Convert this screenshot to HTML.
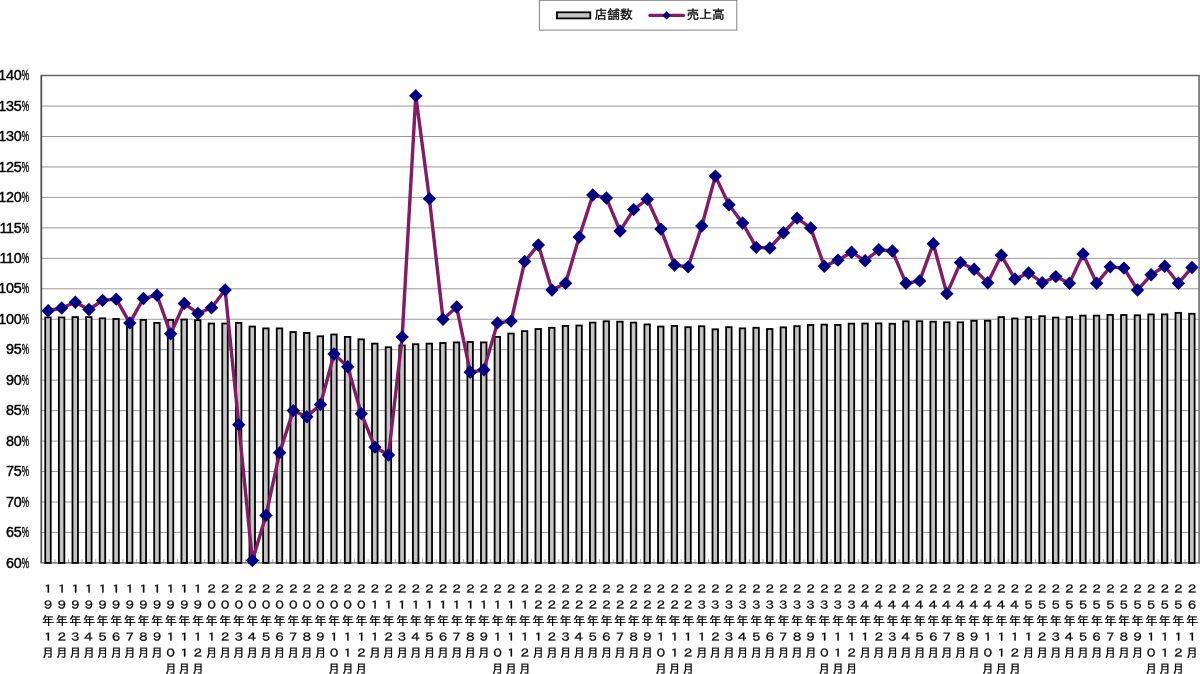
<!DOCTYPE html>
<html lang="ja">
<head>
<meta charset="utf-8">
<title>店舗数・売上高 前年同月比</title>
<style>
html,body{margin:0;padding:0;background:#fff;}
body{width:1200px;height:674px;overflow:hidden;position:relative;font-family:"Liberation Sans","Noto Sans CJK JP",sans-serif;}
svg{position:absolute;left:0;top:0;display:block;}
.yl{font-family:"Liberation Sans",sans-serif;font-size:14.4px;fill:#000;stroke:#000;stroke-width:0.4px;}
.xl{font-family:"Liberation Sans", "IPAGothic", "Noto Sans CJK JP", sans-serif;font-size:12px;fill:#000;stroke:#000;stroke-width:0.3px;text-anchor:middle;}
.lg{font-family:"Liberation Sans", "IPAGothic", "Noto Sans CJK JP", sans-serif;font-size:12.8px;fill:#000;stroke:#000;stroke-width:0.3px;}
</style>
</head>
<body>
<svg width="1200" height="674" viewBox="0 0 1200 674">
<rect x="0" y="0" width="1200" height="674" fill="#fff"/>
<g stroke="#9a9a9a" stroke-width="1.0" fill="none">
<line x1="41.3" y1="106.06" x2="1198.8" y2="106.06"/>
<line x1="41.3" y1="136.51" x2="1198.8" y2="136.51"/>
<line x1="41.3" y1="166.97" x2="1198.8" y2="166.97"/>
<line x1="41.3" y1="197.42" x2="1198.8" y2="197.42"/>
<line x1="41.3" y1="227.88" x2="1198.8" y2="227.88"/>
<line x1="41.3" y1="258.34" x2="1198.8" y2="258.34"/>
<line x1="41.3" y1="288.79" x2="1198.8" y2="288.79"/>
<line x1="41.3" y1="319.25" x2="1198.8" y2="319.25"/>
<line x1="41.3" y1="349.71" x2="1198.8" y2="349.71"/>
<line x1="41.3" y1="380.16" x2="1198.8" y2="380.16"/>
<line x1="41.3" y1="410.62" x2="1198.8" y2="410.62"/>
<line x1="41.3" y1="441.07" x2="1198.8" y2="441.07"/>
<line x1="41.3" y1="471.53" x2="1198.8" y2="471.53"/>
<line x1="41.3" y1="501.99" x2="1198.8" y2="501.99"/>
<line x1="41.3" y1="532.44" x2="1198.8" y2="532.44"/>
</g>
<g stroke="#a8a8a8" stroke-width="1" fill="none">
<line x1="54.92" y1="559.3" x2="54.92" y2="562.9"/>
<line x1="68.54" y1="559.3" x2="68.54" y2="562.9"/>
<line x1="82.15" y1="559.3" x2="82.15" y2="562.9"/>
<line x1="95.77" y1="559.3" x2="95.77" y2="562.9"/>
<line x1="109.39" y1="559.3" x2="109.39" y2="562.9"/>
<line x1="123.01" y1="559.3" x2="123.01" y2="562.9"/>
<line x1="136.62" y1="559.3" x2="136.62" y2="562.9"/>
<line x1="150.24" y1="559.3" x2="150.24" y2="562.9"/>
<line x1="163.86" y1="559.3" x2="163.86" y2="562.9"/>
<line x1="177.48" y1="559.3" x2="177.48" y2="562.9"/>
<line x1="191.09" y1="559.3" x2="191.09" y2="562.9"/>
<line x1="204.71" y1="559.3" x2="204.71" y2="562.9"/>
<line x1="218.33" y1="559.3" x2="218.33" y2="562.9"/>
<line x1="231.95" y1="559.3" x2="231.95" y2="562.9"/>
<line x1="245.56" y1="559.3" x2="245.56" y2="562.9"/>
<line x1="259.18" y1="559.3" x2="259.18" y2="562.9"/>
<line x1="272.8" y1="559.3" x2="272.8" y2="562.9"/>
<line x1="286.42" y1="559.3" x2="286.42" y2="562.9"/>
<line x1="300.04" y1="559.3" x2="300.04" y2="562.9"/>
<line x1="313.65" y1="559.3" x2="313.65" y2="562.9"/>
<line x1="327.27" y1="559.3" x2="327.27" y2="562.9"/>
<line x1="340.89" y1="559.3" x2="340.89" y2="562.9"/>
<line x1="354.51" y1="559.3" x2="354.51" y2="562.9"/>
<line x1="368.12" y1="559.3" x2="368.12" y2="562.9"/>
<line x1="381.74" y1="559.3" x2="381.74" y2="562.9"/>
<line x1="395.36" y1="559.3" x2="395.36" y2="562.9"/>
<line x1="408.98" y1="559.3" x2="408.98" y2="562.9"/>
<line x1="422.59" y1="559.3" x2="422.59" y2="562.9"/>
<line x1="436.21" y1="559.3" x2="436.21" y2="562.9"/>
<line x1="449.83" y1="559.3" x2="449.83" y2="562.9"/>
<line x1="463.45" y1="559.3" x2="463.45" y2="562.9"/>
<line x1="477.06" y1="559.3" x2="477.06" y2="562.9"/>
<line x1="490.68" y1="559.3" x2="490.68" y2="562.9"/>
<line x1="504.3" y1="559.3" x2="504.3" y2="562.9"/>
<line x1="517.92" y1="559.3" x2="517.92" y2="562.9"/>
<line x1="531.54" y1="559.3" x2="531.54" y2="562.9"/>
<line x1="545.15" y1="559.3" x2="545.15" y2="562.9"/>
<line x1="558.77" y1="559.3" x2="558.77" y2="562.9"/>
<line x1="572.39" y1="559.3" x2="572.39" y2="562.9"/>
<line x1="586.01" y1="559.3" x2="586.01" y2="562.9"/>
<line x1="599.62" y1="559.3" x2="599.62" y2="562.9"/>
<line x1="613.24" y1="559.3" x2="613.24" y2="562.9"/>
<line x1="626.86" y1="559.3" x2="626.86" y2="562.9"/>
<line x1="640.48" y1="559.3" x2="640.48" y2="562.9"/>
<line x1="654.09" y1="559.3" x2="654.09" y2="562.9"/>
<line x1="667.71" y1="559.3" x2="667.71" y2="562.9"/>
<line x1="681.33" y1="559.3" x2="681.33" y2="562.9"/>
<line x1="694.95" y1="559.3" x2="694.95" y2="562.9"/>
<line x1="708.56" y1="559.3" x2="708.56" y2="562.9"/>
<line x1="722.18" y1="559.3" x2="722.18" y2="562.9"/>
<line x1="735.8" y1="559.3" x2="735.8" y2="562.9"/>
<line x1="749.42" y1="559.3" x2="749.42" y2="562.9"/>
<line x1="763.04" y1="559.3" x2="763.04" y2="562.9"/>
<line x1="776.65" y1="559.3" x2="776.65" y2="562.9"/>
<line x1="790.27" y1="559.3" x2="790.27" y2="562.9"/>
<line x1="803.89" y1="559.3" x2="803.89" y2="562.9"/>
<line x1="817.51" y1="559.3" x2="817.51" y2="562.9"/>
<line x1="831.12" y1="559.3" x2="831.12" y2="562.9"/>
<line x1="844.74" y1="559.3" x2="844.74" y2="562.9"/>
<line x1="858.36" y1="559.3" x2="858.36" y2="562.9"/>
<line x1="871.98" y1="559.3" x2="871.98" y2="562.9"/>
<line x1="885.59" y1="559.3" x2="885.59" y2="562.9"/>
<line x1="899.21" y1="559.3" x2="899.21" y2="562.9"/>
<line x1="912.83" y1="559.3" x2="912.83" y2="562.9"/>
<line x1="926.45" y1="559.3" x2="926.45" y2="562.9"/>
<line x1="940.06" y1="559.3" x2="940.06" y2="562.9"/>
<line x1="953.68" y1="559.3" x2="953.68" y2="562.9"/>
<line x1="967.3" y1="559.3" x2="967.3" y2="562.9"/>
<line x1="980.92" y1="559.3" x2="980.92" y2="562.9"/>
<line x1="994.54" y1="559.3" x2="994.54" y2="562.9"/>
<line x1="1008.15" y1="559.3" x2="1008.15" y2="562.9"/>
<line x1="1021.77" y1="559.3" x2="1021.77" y2="562.9"/>
<line x1="1035.39" y1="559.3" x2="1035.39" y2="562.9"/>
<line x1="1049.01" y1="559.3" x2="1049.01" y2="562.9"/>
<line x1="1062.62" y1="559.3" x2="1062.62" y2="562.9"/>
<line x1="1076.24" y1="559.3" x2="1076.24" y2="562.9"/>
<line x1="1089.86" y1="559.3" x2="1089.86" y2="562.9"/>
<line x1="1103.48" y1="559.3" x2="1103.48" y2="562.9"/>
<line x1="1117.09" y1="559.3" x2="1117.09" y2="562.9"/>
<line x1="1130.71" y1="559.3" x2="1130.71" y2="562.9"/>
<line x1="1144.33" y1="559.3" x2="1144.33" y2="562.9"/>
<line x1="1157.95" y1="559.3" x2="1157.95" y2="562.9"/>
<line x1="1171.56" y1="559.3" x2="1171.56" y2="562.9"/>
<line x1="1185.18" y1="559.3" x2="1185.18" y2="562.9"/>
</g>
<line x1="1199.1" y1="75.6" x2="1199.1" y2="562.9" stroke="#808080" stroke-width="1.9"/>
<line x1="40.6" y1="75.6" x2="1200" y2="75.6" stroke="#666" stroke-width="1.5"/>
<line x1="41.3" y1="75.6" x2="41.3" y2="562.9" stroke="#4c4c4c" stroke-width="1.7"/>
<line x1="40.6" y1="562.9" x2="1200" y2="562.9" stroke="#606060" stroke-width="1.4"/>
<g fill="#c4c4c4" stroke="#000" stroke-width="1.8">
<rect x="45.24" y="317.42" width="5.5" height="245.48"/>
<rect x="58.86" y="317.42" width="5.5" height="245.48"/>
<rect x="72.47" y="317.12" width="5.5" height="245.78"/>
<rect x="86.09" y="317.12" width="5.5" height="245.78"/>
<rect x="99.71" y="318.34" width="5.5" height="244.56"/>
<rect x="113.33" y="318.95" width="5.5" height="243.95"/>
<rect x="126.94" y="319.25" width="5.5" height="243.65"/>
<rect x="140.56" y="319.86" width="5.5" height="243.04"/>
<rect x="154.18" y="322.9" width="5.5" height="240"/>
<rect x="167.8" y="319.86" width="5.5" height="243.04"/>
<rect x="181.42" y="319.55" width="5.5" height="243.35"/>
<rect x="195.03" y="320.16" width="5.5" height="242.74"/>
<rect x="208.65" y="323.51" width="5.5" height="239.39"/>
<rect x="222.27" y="323.51" width="5.5" height="239.39"/>
<rect x="235.89" y="322.9" width="5.5" height="240"/>
<rect x="249.5" y="326.56" width="5.5" height="236.34"/>
<rect x="263.12" y="328.39" width="5.5" height="234.51"/>
<rect x="276.74" y="328.39" width="5.5" height="234.51"/>
<rect x="290.36" y="332.04" width="5.5" height="230.86"/>
<rect x="303.97" y="332.96" width="5.5" height="229.94"/>
<rect x="317.59" y="336.31" width="5.5" height="226.59"/>
<rect x="331.21" y="334.48" width="5.5" height="228.42"/>
<rect x="344.83" y="336.91" width="5.5" height="225.99"/>
<rect x="358.44" y="339.35" width="5.5" height="223.55"/>
<rect x="372.06" y="343.62" width="5.5" height="219.28"/>
<rect x="385.68" y="347.27" width="5.5" height="215.63"/>
<rect x="399.3" y="345.44" width="5.5" height="217.46"/>
<rect x="412.92" y="344.22" width="5.5" height="218.68"/>
<rect x="426.53" y="343.62" width="5.5" height="219.28"/>
<rect x="440.15" y="343.01" width="5.5" height="219.89"/>
<rect x="453.77" y="342.4" width="5.5" height="220.5"/>
<rect x="467.39" y="341.97" width="5.5" height="220.93"/>
<rect x="481" y="342.4" width="5.5" height="220.5"/>
<rect x="494.62" y="336.91" width="5.5" height="225.99"/>
<rect x="508.24" y="333.56" width="5.5" height="229.34"/>
<rect x="521.86" y="331.13" width="5.5" height="231.77"/>
<rect x="535.47" y="329" width="5.5" height="233.9"/>
<rect x="549.09" y="327.78" width="5.5" height="235.12"/>
<rect x="562.71" y="325.95" width="5.5" height="236.95"/>
<rect x="576.33" y="325.52" width="5.5" height="237.38"/>
<rect x="589.94" y="322.6" width="5.5" height="240.3"/>
<rect x="603.56" y="321.26" width="5.5" height="241.64"/>
<rect x="617.18" y="321.69" width="5.5" height="241.21"/>
<rect x="630.8" y="322.6" width="5.5" height="240.3"/>
<rect x="644.42" y="324.43" width="5.5" height="238.47"/>
<rect x="658.03" y="326.56" width="5.5" height="236.34"/>
<rect x="671.65" y="325.95" width="5.5" height="236.95"/>
<rect x="685.27" y="327.17" width="5.5" height="235.73"/>
<rect x="698.89" y="326.25" width="5.5" height="236.65"/>
<rect x="712.5" y="329.3" width="5.5" height="233.6"/>
<rect x="726.12" y="327.17" width="5.5" height="235.73"/>
<rect x="739.74" y="328.39" width="5.5" height="234.51"/>
<rect x="753.36" y="327.78" width="5.5" height="235.12"/>
<rect x="766.97" y="329" width="5.5" height="233.9"/>
<rect x="780.59" y="327.35" width="5.5" height="235.55"/>
<rect x="794.21" y="326.19" width="5.5" height="236.71"/>
<rect x="807.83" y="324.98" width="5.5" height="237.92"/>
<rect x="821.44" y="324.61" width="5.5" height="238.29"/>
<rect x="835.06" y="324.98" width="5.5" height="237.92"/>
<rect x="848.68" y="323.64" width="5.5" height="239.26"/>
<rect x="862.3" y="323.51" width="5.5" height="239.39"/>
<rect x="875.92" y="323.39" width="5.5" height="239.51"/>
<rect x="889.53" y="323.76" width="5.5" height="239.14"/>
<rect x="903.15" y="321.26" width="5.5" height="241.64"/>
<rect x="916.77" y="321.26" width="5.5" height="241.64"/>
<rect x="930.39" y="321.69" width="5.5" height="241.21"/>
<rect x="944" y="322.3" width="5.5" height="240.6"/>
<rect x="957.62" y="322.3" width="5.5" height="240.6"/>
<rect x="971.24" y="320.77" width="5.5" height="242.13"/>
<rect x="984.86" y="320.71" width="5.5" height="242.19"/>
<rect x="998.47" y="317.12" width="5.5" height="245.78"/>
<rect x="1012.09" y="318.46" width="5.5" height="244.44"/>
<rect x="1025.71" y="317.12" width="5.5" height="245.78"/>
<rect x="1039.33" y="316.2" width="5.5" height="246.7"/>
<rect x="1052.94" y="317.54" width="5.5" height="245.36"/>
<rect x="1066.56" y="317.12" width="5.5" height="245.78"/>
<rect x="1080.18" y="315.6" width="5.5" height="247.3"/>
<rect x="1093.8" y="315.6" width="5.5" height="247.3"/>
<rect x="1107.42" y="314.86" width="5.5" height="248.04"/>
<rect x="1121.03" y="314.99" width="5.5" height="247.91"/>
<rect x="1134.65" y="315.29" width="5.5" height="247.61"/>
<rect x="1148.27" y="314.38" width="5.5" height="248.52"/>
<rect x="1161.89" y="314.38" width="5.5" height="248.52"/>
<rect x="1175.5" y="312.85" width="5.5" height="250.05"/>
<rect x="1189.12" y="313.77" width="5.5" height="249.13"/>
</g>
<polyline points="48.11,310.72 61.73,307.98 75.34,302.19 88.96,309.5 102.58,300.37 116.2,299.15 129.81,322.9 143.43,298.54 157.05,295.19 170.67,333.87 184.29,303.41 197.9,313.46 211.52,307.68 225.14,290.01 238.76,424.63 252.37,560.46 265.99,515.39 279.61,452.65 293.23,410.62 306.84,416.71 320.46,404.53 334.08,353.97 347.7,366.76 361.31,413.66 374.93,447.17 388.55,455.08 402.17,336.91 415.79,95.7 429.4,198.64 443.02,319.25 456.64,307.07 470.26,372.24 483.87,369.81 497.49,322.9 511.11,321.08 524.73,261.38 538.34,244.94 551.96,290.01 565.58,283.31 579.2,237.02 592.81,194.99 606.43,198.03 620.05,230.93 633.67,209.61 647.29,199.25 660.9,229.1 674.52,265.04 688.14,266.87 701.76,226.05 715.37,176.11 728.99,204.73 742.61,223.01 756.23,247.37 769.84,247.98 783.46,232.75 797.08,218.14 810.7,227.88 824.31,266.26 837.93,260.16 851.55,252.25 865.17,260.77 878.79,249.81 892.4,251.03 906.02,283.31 919.64,280.88 933.26,243.72 946.87,293.67 960.49,262.6 974.11,269.3 987.73,282.7 1001.34,255.29 1014.96,279.05 1028.58,272.96 1042.2,282.7 1055.81,276.61 1069.43,283.31 1083.05,254.07 1096.67,283.31 1110.29,266.87 1123.9,268.08 1137.52,290.01 1151.14,274.78 1164.76,266.26 1178.37,283.31 1191.99,267.47" fill="none" stroke="#851a66" stroke-width="3.4" stroke-linejoin="round" stroke-linecap="round"/>
<g fill="#000080">
<path d="M48.11 304.02L54.81 310.72L48.11 317.42L41.41 310.72Z"/>
<path d="M61.73 301.28L68.43 307.98L61.73 314.68L55.03 307.98Z"/>
<path d="M75.34 295.49L82.04 302.19L75.34 308.89L68.64 302.19Z"/>
<path d="M88.96 302.8L95.66 309.5L88.96 316.2L82.26 309.5Z"/>
<path d="M102.58 293.67L109.28 300.37L102.58 307.07L95.88 300.37Z"/>
<path d="M116.2 292.45L122.9 299.15L116.2 305.85L109.5 299.15Z"/>
<path d="M129.81 316.2L136.51 322.9L129.81 329.6L123.11 322.9Z"/>
<path d="M143.43 291.84L150.13 298.54L143.43 305.24L136.73 298.54Z"/>
<path d="M157.05 288.49L163.75 295.19L157.05 301.89L150.35 295.19Z"/>
<path d="M170.67 327.17L177.37 333.87L170.67 340.57L163.97 333.87Z"/>
<path d="M184.29 296.71L190.99 303.41L184.29 310.11L177.59 303.41Z"/>
<path d="M197.9 306.76L204.6 313.46L197.9 320.16L191.2 313.46Z"/>
<path d="M211.52 300.98L218.22 307.68L211.52 314.38L204.82 307.68Z"/>
<path d="M225.14 283.31L231.84 290.01L225.14 296.71L218.44 290.01Z"/>
<path d="M238.76 417.93L245.46 424.63L238.76 431.33L232.06 424.63Z"/>
<path d="M252.37 553.76L259.07 560.46L252.37 567.16L245.67 560.46Z"/>
<path d="M265.99 508.69L272.69 515.39L265.99 522.09L259.29 515.39Z"/>
<path d="M279.61 445.95L286.31 452.65L279.61 459.35L272.91 452.65Z"/>
<path d="M293.23 403.92L299.93 410.62L293.23 417.32L286.53 410.62Z"/>
<path d="M306.84 410.01L313.54 416.71L306.84 423.41L300.14 416.71Z"/>
<path d="M320.46 397.83L327.16 404.53L320.46 411.23L313.76 404.53Z"/>
<path d="M334.08 347.27L340.78 353.97L334.08 360.67L327.38 353.97Z"/>
<path d="M347.7 360.06L354.4 366.76L347.7 373.46L341 366.76Z"/>
<path d="M361.31 406.96L368.01 413.66L361.31 420.36L354.61 413.66Z"/>
<path d="M374.93 440.47L381.63 447.17L374.93 453.87L368.23 447.17Z"/>
<path d="M388.55 448.38L395.25 455.08L388.55 461.78L381.85 455.08Z"/>
<path d="M402.17 330.21L408.87 336.91L402.17 343.61L395.47 336.91Z"/>
<path d="M415.79 89L422.49 95.7L415.79 102.4L409.09 95.7Z"/>
<path d="M429.4 191.94L436.1 198.64L429.4 205.34L422.7 198.64Z"/>
<path d="M443.02 312.55L449.72 319.25L443.02 325.95L436.32 319.25Z"/>
<path d="M456.64 300.37L463.34 307.07L456.64 313.77L449.94 307.07Z"/>
<path d="M470.26 365.54L476.96 372.24L470.26 378.94L463.56 372.24Z"/>
<path d="M483.87 363.11L490.57 369.81L483.87 376.51L477.17 369.81Z"/>
<path d="M497.49 316.2L504.19 322.9L497.49 329.6L490.79 322.9Z"/>
<path d="M511.11 314.38L517.81 321.08L511.11 327.78L504.41 321.08Z"/>
<path d="M524.73 254.68L531.43 261.38L524.73 268.08L518.03 261.38Z"/>
<path d="M538.34 238.24L545.04 244.94L538.34 251.64L531.64 244.94Z"/>
<path d="M551.96 283.31L558.66 290.01L551.96 296.71L545.26 290.01Z"/>
<path d="M565.58 276.61L572.28 283.31L565.58 290.01L558.88 283.31Z"/>
<path d="M579.2 230.32L585.9 237.02L579.2 243.72L572.5 237.02Z"/>
<path d="M592.81 188.29L599.51 194.99L592.81 201.69L586.11 194.99Z"/>
<path d="M606.43 191.33L613.13 198.03L606.43 204.73L599.73 198.03Z"/>
<path d="M620.05 224.23L626.75 230.93L620.05 237.63L613.35 230.93Z"/>
<path d="M633.67 202.91L640.37 209.61L633.67 216.31L626.97 209.61Z"/>
<path d="M647.29 192.55L653.99 199.25L647.29 205.95L640.59 199.25Z"/>
<path d="M660.9 222.4L667.6 229.1L660.9 235.8L654.2 229.1Z"/>
<path d="M674.52 258.34L681.22 265.04L674.52 271.74L667.82 265.04Z"/>
<path d="M688.14 260.17L694.84 266.87L688.14 273.57L681.44 266.87Z"/>
<path d="M701.76 219.35L708.46 226.05L701.76 232.75L695.06 226.05Z"/>
<path d="M715.37 169.41L722.07 176.11L715.37 182.81L708.67 176.11Z"/>
<path d="M728.99 198.03L735.69 204.73L728.99 211.43L722.29 204.73Z"/>
<path d="M742.61 216.31L749.31 223.01L742.61 229.71L735.91 223.01Z"/>
<path d="M756.23 240.67L762.93 247.37L756.23 254.07L749.53 247.37Z"/>
<path d="M769.84 241.28L776.54 247.98L769.84 254.68L763.14 247.98Z"/>
<path d="M783.46 226.05L790.16 232.75L783.46 239.45L776.76 232.75Z"/>
<path d="M797.08 211.44L803.78 218.14L797.08 224.84L790.38 218.14Z"/>
<path d="M810.7 221.18L817.4 227.88L810.7 234.58L804 227.88Z"/>
<path d="M824.31 259.56L831.01 266.26L824.31 272.96L817.61 266.26Z"/>
<path d="M837.93 253.46L844.63 260.16L837.93 266.86L831.23 260.16Z"/>
<path d="M851.55 245.55L858.25 252.25L851.55 258.95L844.85 252.25Z"/>
<path d="M865.17 254.07L871.87 260.77L865.17 267.47L858.47 260.77Z"/>
<path d="M878.79 243.11L885.49 249.81L878.79 256.51L872.09 249.81Z"/>
<path d="M892.4 244.33L899.1 251.03L892.4 257.73L885.7 251.03Z"/>
<path d="M906.02 276.61L912.72 283.31L906.02 290.01L899.32 283.31Z"/>
<path d="M919.64 274.18L926.34 280.88L919.64 287.58L912.94 280.88Z"/>
<path d="M933.26 237.02L939.96 243.72L933.26 250.42L926.56 243.72Z"/>
<path d="M946.87 286.97L953.57 293.67L946.87 300.37L940.17 293.67Z"/>
<path d="M960.49 255.9L967.19 262.6L960.49 269.3L953.79 262.6Z"/>
<path d="M974.11 262.6L980.81 269.3L974.11 276L967.41 269.3Z"/>
<path d="M987.73 276L994.43 282.7L987.73 289.4L981.03 282.7Z"/>
<path d="M1001.34 248.59L1008.04 255.29L1001.34 261.99L994.64 255.29Z"/>
<path d="M1014.96 272.35L1021.66 279.05L1014.96 285.75L1008.26 279.05Z"/>
<path d="M1028.58 266.26L1035.28 272.96L1028.58 279.66L1021.88 272.96Z"/>
<path d="M1042.2 276L1048.9 282.7L1042.2 289.4L1035.5 282.7Z"/>
<path d="M1055.81 269.91L1062.51 276.61L1055.81 283.31L1049.11 276.61Z"/>
<path d="M1069.43 276.61L1076.13 283.31L1069.43 290.01L1062.73 283.31Z"/>
<path d="M1083.05 247.37L1089.75 254.07L1083.05 260.77L1076.35 254.07Z"/>
<path d="M1096.67 276.61L1103.37 283.31L1096.67 290.01L1089.97 283.31Z"/>
<path d="M1110.29 260.17L1116.99 266.87L1110.29 273.57L1103.59 266.87Z"/>
<path d="M1123.9 261.38L1130.6 268.08L1123.9 274.78L1117.2 268.08Z"/>
<path d="M1137.52 283.31L1144.22 290.01L1137.52 296.71L1130.82 290.01Z"/>
<path d="M1151.14 268.08L1157.84 274.78L1151.14 281.48L1144.44 274.78Z"/>
<path d="M1164.76 259.56L1171.46 266.26L1164.76 272.96L1158.06 266.26Z"/>
<path d="M1178.37 276.61L1185.07 283.31L1178.37 290.01L1171.67 283.31Z"/>
<path d="M1191.99 260.77L1198.69 267.47L1191.99 274.17L1185.29 267.47Z"/>
</g>
<text class="yl" x="21.3" y="80.3" text-anchor="end" letter-spacing="-0.35">140</text>
<text class="yl" transform="translate(21.8 80.3) scale(0.57 1)" x="0" y="0">%</text>
<text class="yl" x="21.3" y="110.76" text-anchor="end" letter-spacing="-0.35">135</text>
<text class="yl" transform="translate(21.8 110.76) scale(0.57 1)" x="0" y="0">%</text>
<text class="yl" x="21.3" y="141.21" text-anchor="end" letter-spacing="-0.35">130</text>
<text class="yl" transform="translate(21.8 141.21) scale(0.57 1)" x="0" y="0">%</text>
<text class="yl" x="21.3" y="171.67" text-anchor="end" letter-spacing="-0.35">125</text>
<text class="yl" transform="translate(21.8 171.67) scale(0.57 1)" x="0" y="0">%</text>
<text class="yl" x="21.3" y="202.12" text-anchor="end" letter-spacing="-0.35">120</text>
<text class="yl" transform="translate(21.8 202.12) scale(0.57 1)" x="0" y="0">%</text>
<text class="yl" x="21.3" y="232.58" text-anchor="end" letter-spacing="-0.35">115</text>
<text class="yl" transform="translate(21.8 232.58) scale(0.57 1)" x="0" y="0">%</text>
<text class="yl" x="21.3" y="263.04" text-anchor="end" letter-spacing="-0.35">110</text>
<text class="yl" transform="translate(21.8 263.04) scale(0.57 1)" x="0" y="0">%</text>
<text class="yl" x="21.3" y="293.49" text-anchor="end" letter-spacing="-0.35">105</text>
<text class="yl" transform="translate(21.8 293.49) scale(0.57 1)" x="0" y="0">%</text>
<text class="yl" x="21.3" y="323.95" text-anchor="end" letter-spacing="-0.35">100</text>
<text class="yl" transform="translate(21.8 323.95) scale(0.57 1)" x="0" y="0">%</text>
<text class="yl" x="21.3" y="354.41" text-anchor="end" letter-spacing="-0.35">95</text>
<text class="yl" transform="translate(21.8 354.41) scale(0.57 1)" x="0" y="0">%</text>
<text class="yl" x="21.3" y="384.86" text-anchor="end" letter-spacing="-0.35">90</text>
<text class="yl" transform="translate(21.8 384.86) scale(0.57 1)" x="0" y="0">%</text>
<text class="yl" x="21.3" y="415.32" text-anchor="end" letter-spacing="-0.35">85</text>
<text class="yl" transform="translate(21.8 415.32) scale(0.57 1)" x="0" y="0">%</text>
<text class="yl" x="21.3" y="445.77" text-anchor="end" letter-spacing="-0.35">80</text>
<text class="yl" transform="translate(21.8 445.77) scale(0.57 1)" x="0" y="0">%</text>
<text class="yl" x="21.3" y="476.23" text-anchor="end" letter-spacing="-0.35">75</text>
<text class="yl" transform="translate(21.8 476.23) scale(0.57 1)" x="0" y="0">%</text>
<text class="yl" x="21.3" y="506.69" text-anchor="end" letter-spacing="-0.35">70</text>
<text class="yl" transform="translate(21.8 506.69) scale(0.57 1)" x="0" y="0">%</text>
<text class="yl" x="21.3" y="537.14" text-anchor="end" letter-spacing="-0.35">65</text>
<text class="yl" transform="translate(21.8 537.14) scale(0.57 1)" x="0" y="0">%</text>
<text class="yl" x="21.3" y="567.6" text-anchor="end" letter-spacing="-0.35">60</text>
<text class="yl" transform="translate(21.8 567.6) scale(0.57 1)" x="0" y="0">%</text>
<g><text class="xl" transform="translate(48.11 592.7) scale(1.1 0.93)">１</text><text class="xl" transform="translate(48.11 608.75) scale(1.1 0.93)">９</text><text class="xl" x="48.11" y="624.9">年</text><text class="xl" transform="translate(48.11 640.85) scale(1.1 0.93)">１</text><text class="xl" x="48.11" y="657">月</text></g>
<g><text class="xl" transform="translate(61.73 592.7) scale(1.1 0.93)">１</text><text class="xl" transform="translate(61.73 608.75) scale(1.1 0.93)">９</text><text class="xl" x="61.73" y="624.9">年</text><text class="xl" transform="translate(61.73 640.85) scale(1.1 0.93)">２</text><text class="xl" x="61.73" y="657">月</text></g>
<g><text class="xl" transform="translate(75.34 592.7) scale(1.1 0.93)">１</text><text class="xl" transform="translate(75.34 608.75) scale(1.1 0.93)">９</text><text class="xl" x="75.34" y="624.9">年</text><text class="xl" transform="translate(75.34 640.85) scale(1.1 0.93)">３</text><text class="xl" x="75.34" y="657">月</text></g>
<g><text class="xl" transform="translate(88.96 592.7) scale(1.1 0.93)">１</text><text class="xl" transform="translate(88.96 608.75) scale(1.1 0.93)">９</text><text class="xl" x="88.96" y="624.9">年</text><text class="xl" transform="translate(88.96 640.85) scale(1.1 0.93)">４</text><text class="xl" x="88.96" y="657">月</text></g>
<g><text class="xl" transform="translate(102.58 592.7) scale(1.1 0.93)">１</text><text class="xl" transform="translate(102.58 608.75) scale(1.1 0.93)">９</text><text class="xl" x="102.58" y="624.9">年</text><text class="xl" transform="translate(102.58 640.85) scale(1.1 0.93)">５</text><text class="xl" x="102.58" y="657">月</text></g>
<g><text class="xl" transform="translate(116.2 592.7) scale(1.1 0.93)">１</text><text class="xl" transform="translate(116.2 608.75) scale(1.1 0.93)">９</text><text class="xl" x="116.2" y="624.9">年</text><text class="xl" transform="translate(116.2 640.85) scale(1.1 0.93)">６</text><text class="xl" x="116.2" y="657">月</text></g>
<g><text class="xl" transform="translate(129.81 592.7) scale(1.1 0.93)">１</text><text class="xl" transform="translate(129.81 608.75) scale(1.1 0.93)">９</text><text class="xl" x="129.81" y="624.9">年</text><text class="xl" transform="translate(129.81 640.85) scale(1.1 0.93)">７</text><text class="xl" x="129.81" y="657">月</text></g>
<g><text class="xl" transform="translate(143.43 592.7) scale(1.1 0.93)">１</text><text class="xl" transform="translate(143.43 608.75) scale(1.1 0.93)">９</text><text class="xl" x="143.43" y="624.9">年</text><text class="xl" transform="translate(143.43 640.85) scale(1.1 0.93)">８</text><text class="xl" x="143.43" y="657">月</text></g>
<g><text class="xl" transform="translate(157.05 592.7) scale(1.1 0.93)">１</text><text class="xl" transform="translate(157.05 608.75) scale(1.1 0.93)">９</text><text class="xl" x="157.05" y="624.9">年</text><text class="xl" transform="translate(157.05 640.85) scale(1.1 0.93)">９</text><text class="xl" x="157.05" y="657">月</text></g>
<g><text class="xl" transform="translate(170.67 592.7) scale(1.1 0.93)">１</text><text class="xl" transform="translate(170.67 608.75) scale(1.1 0.93)">９</text><text class="xl" x="170.67" y="624.9">年</text><text class="xl" transform="translate(170.67 640.85) scale(1.1 0.93)">１</text><text class="xl" transform="translate(170.67 656.9) scale(1.1 0.93)">０</text><text class="xl" x="170.67" y="673.05">月</text></g>
<g><text class="xl" transform="translate(184.29 592.7) scale(1.1 0.93)">１</text><text class="xl" transform="translate(184.29 608.75) scale(1.1 0.93)">９</text><text class="xl" x="184.29" y="624.9">年</text><text class="xl" transform="translate(184.29 640.85) scale(1.1 0.93)">１</text><text class="xl" transform="translate(184.29 656.9) scale(1.1 0.93)">１</text><text class="xl" x="184.29" y="673.05">月</text></g>
<g><text class="xl" transform="translate(197.9 592.7) scale(1.1 0.93)">１</text><text class="xl" transform="translate(197.9 608.75) scale(1.1 0.93)">９</text><text class="xl" x="197.9" y="624.9">年</text><text class="xl" transform="translate(197.9 640.85) scale(1.1 0.93)">１</text><text class="xl" transform="translate(197.9 656.9) scale(1.1 0.93)">２</text><text class="xl" x="197.9" y="673.05">月</text></g>
<g><text class="xl" transform="translate(211.52 592.7) scale(1.1 0.93)">２</text><text class="xl" transform="translate(211.52 608.75) scale(1.1 0.93)">０</text><text class="xl" x="211.52" y="624.9">年</text><text class="xl" transform="translate(211.52 640.85) scale(1.1 0.93)">１</text><text class="xl" x="211.52" y="657">月</text></g>
<g><text class="xl" transform="translate(225.14 592.7) scale(1.1 0.93)">２</text><text class="xl" transform="translate(225.14 608.75) scale(1.1 0.93)">０</text><text class="xl" x="225.14" y="624.9">年</text><text class="xl" transform="translate(225.14 640.85) scale(1.1 0.93)">２</text><text class="xl" x="225.14" y="657">月</text></g>
<g><text class="xl" transform="translate(238.76 592.7) scale(1.1 0.93)">２</text><text class="xl" transform="translate(238.76 608.75) scale(1.1 0.93)">０</text><text class="xl" x="238.76" y="624.9">年</text><text class="xl" transform="translate(238.76 640.85) scale(1.1 0.93)">３</text><text class="xl" x="238.76" y="657">月</text></g>
<g><text class="xl" transform="translate(252.37 592.7) scale(1.1 0.93)">２</text><text class="xl" transform="translate(252.37 608.75) scale(1.1 0.93)">０</text><text class="xl" x="252.37" y="624.9">年</text><text class="xl" transform="translate(252.37 640.85) scale(1.1 0.93)">４</text><text class="xl" x="252.37" y="657">月</text></g>
<g><text class="xl" transform="translate(265.99 592.7) scale(1.1 0.93)">２</text><text class="xl" transform="translate(265.99 608.75) scale(1.1 0.93)">０</text><text class="xl" x="265.99" y="624.9">年</text><text class="xl" transform="translate(265.99 640.85) scale(1.1 0.93)">５</text><text class="xl" x="265.99" y="657">月</text></g>
<g><text class="xl" transform="translate(279.61 592.7) scale(1.1 0.93)">２</text><text class="xl" transform="translate(279.61 608.75) scale(1.1 0.93)">０</text><text class="xl" x="279.61" y="624.9">年</text><text class="xl" transform="translate(279.61 640.85) scale(1.1 0.93)">６</text><text class="xl" x="279.61" y="657">月</text></g>
<g><text class="xl" transform="translate(293.23 592.7) scale(1.1 0.93)">２</text><text class="xl" transform="translate(293.23 608.75) scale(1.1 0.93)">０</text><text class="xl" x="293.23" y="624.9">年</text><text class="xl" transform="translate(293.23 640.85) scale(1.1 0.93)">７</text><text class="xl" x="293.23" y="657">月</text></g>
<g><text class="xl" transform="translate(306.84 592.7) scale(1.1 0.93)">２</text><text class="xl" transform="translate(306.84 608.75) scale(1.1 0.93)">０</text><text class="xl" x="306.84" y="624.9">年</text><text class="xl" transform="translate(306.84 640.85) scale(1.1 0.93)">８</text><text class="xl" x="306.84" y="657">月</text></g>
<g><text class="xl" transform="translate(320.46 592.7) scale(1.1 0.93)">２</text><text class="xl" transform="translate(320.46 608.75) scale(1.1 0.93)">０</text><text class="xl" x="320.46" y="624.9">年</text><text class="xl" transform="translate(320.46 640.85) scale(1.1 0.93)">９</text><text class="xl" x="320.46" y="657">月</text></g>
<g><text class="xl" transform="translate(334.08 592.7) scale(1.1 0.93)">２</text><text class="xl" transform="translate(334.08 608.75) scale(1.1 0.93)">０</text><text class="xl" x="334.08" y="624.9">年</text><text class="xl" transform="translate(334.08 640.85) scale(1.1 0.93)">１</text><text class="xl" transform="translate(334.08 656.9) scale(1.1 0.93)">０</text><text class="xl" x="334.08" y="673.05">月</text></g>
<g><text class="xl" transform="translate(347.7 592.7) scale(1.1 0.93)">２</text><text class="xl" transform="translate(347.7 608.75) scale(1.1 0.93)">０</text><text class="xl" x="347.7" y="624.9">年</text><text class="xl" transform="translate(347.7 640.85) scale(1.1 0.93)">１</text><text class="xl" transform="translate(347.7 656.9) scale(1.1 0.93)">１</text><text class="xl" x="347.7" y="673.05">月</text></g>
<g><text class="xl" transform="translate(361.31 592.7) scale(1.1 0.93)">２</text><text class="xl" transform="translate(361.31 608.75) scale(1.1 0.93)">０</text><text class="xl" x="361.31" y="624.9">年</text><text class="xl" transform="translate(361.31 640.85) scale(1.1 0.93)">１</text><text class="xl" transform="translate(361.31 656.9) scale(1.1 0.93)">２</text><text class="xl" x="361.31" y="673.05">月</text></g>
<g><text class="xl" transform="translate(374.93 592.7) scale(1.1 0.93)">２</text><text class="xl" transform="translate(374.93 608.75) scale(1.1 0.93)">１</text><text class="xl" x="374.93" y="624.9">年</text><text class="xl" transform="translate(374.93 640.85) scale(1.1 0.93)">１</text><text class="xl" x="374.93" y="657">月</text></g>
<g><text class="xl" transform="translate(388.55 592.7) scale(1.1 0.93)">２</text><text class="xl" transform="translate(388.55 608.75) scale(1.1 0.93)">１</text><text class="xl" x="388.55" y="624.9">年</text><text class="xl" transform="translate(388.55 640.85) scale(1.1 0.93)">２</text><text class="xl" x="388.55" y="657">月</text></g>
<g><text class="xl" transform="translate(402.17 592.7) scale(1.1 0.93)">２</text><text class="xl" transform="translate(402.17 608.75) scale(1.1 0.93)">１</text><text class="xl" x="402.17" y="624.9">年</text><text class="xl" transform="translate(402.17 640.85) scale(1.1 0.93)">３</text><text class="xl" x="402.17" y="657">月</text></g>
<g><text class="xl" transform="translate(415.79 592.7) scale(1.1 0.93)">２</text><text class="xl" transform="translate(415.79 608.75) scale(1.1 0.93)">１</text><text class="xl" x="415.79" y="624.9">年</text><text class="xl" transform="translate(415.79 640.85) scale(1.1 0.93)">４</text><text class="xl" x="415.79" y="657">月</text></g>
<g><text class="xl" transform="translate(429.4 592.7) scale(1.1 0.93)">２</text><text class="xl" transform="translate(429.4 608.75) scale(1.1 0.93)">１</text><text class="xl" x="429.4" y="624.9">年</text><text class="xl" transform="translate(429.4 640.85) scale(1.1 0.93)">５</text><text class="xl" x="429.4" y="657">月</text></g>
<g><text class="xl" transform="translate(443.02 592.7) scale(1.1 0.93)">２</text><text class="xl" transform="translate(443.02 608.75) scale(1.1 0.93)">１</text><text class="xl" x="443.02" y="624.9">年</text><text class="xl" transform="translate(443.02 640.85) scale(1.1 0.93)">６</text><text class="xl" x="443.02" y="657">月</text></g>
<g><text class="xl" transform="translate(456.64 592.7) scale(1.1 0.93)">２</text><text class="xl" transform="translate(456.64 608.75) scale(1.1 0.93)">１</text><text class="xl" x="456.64" y="624.9">年</text><text class="xl" transform="translate(456.64 640.85) scale(1.1 0.93)">７</text><text class="xl" x="456.64" y="657">月</text></g>
<g><text class="xl" transform="translate(470.26 592.7) scale(1.1 0.93)">２</text><text class="xl" transform="translate(470.26 608.75) scale(1.1 0.93)">１</text><text class="xl" x="470.26" y="624.9">年</text><text class="xl" transform="translate(470.26 640.85) scale(1.1 0.93)">８</text><text class="xl" x="470.26" y="657">月</text></g>
<g><text class="xl" transform="translate(483.87 592.7) scale(1.1 0.93)">２</text><text class="xl" transform="translate(483.87 608.75) scale(1.1 0.93)">１</text><text class="xl" x="483.87" y="624.9">年</text><text class="xl" transform="translate(483.87 640.85) scale(1.1 0.93)">９</text><text class="xl" x="483.87" y="657">月</text></g>
<g><text class="xl" transform="translate(497.49 592.7) scale(1.1 0.93)">２</text><text class="xl" transform="translate(497.49 608.75) scale(1.1 0.93)">１</text><text class="xl" x="497.49" y="624.9">年</text><text class="xl" transform="translate(497.49 640.85) scale(1.1 0.93)">１</text><text class="xl" transform="translate(497.49 656.9) scale(1.1 0.93)">０</text><text class="xl" x="497.49" y="673.05">月</text></g>
<g><text class="xl" transform="translate(511.11 592.7) scale(1.1 0.93)">２</text><text class="xl" transform="translate(511.11 608.75) scale(1.1 0.93)">１</text><text class="xl" x="511.11" y="624.9">年</text><text class="xl" transform="translate(511.11 640.85) scale(1.1 0.93)">１</text><text class="xl" transform="translate(511.11 656.9) scale(1.1 0.93)">１</text><text class="xl" x="511.11" y="673.05">月</text></g>
<g><text class="xl" transform="translate(524.73 592.7) scale(1.1 0.93)">２</text><text class="xl" transform="translate(524.73 608.75) scale(1.1 0.93)">１</text><text class="xl" x="524.73" y="624.9">年</text><text class="xl" transform="translate(524.73 640.85) scale(1.1 0.93)">１</text><text class="xl" transform="translate(524.73 656.9) scale(1.1 0.93)">２</text><text class="xl" x="524.73" y="673.05">月</text></g>
<g><text class="xl" transform="translate(538.34 592.7) scale(1.1 0.93)">２</text><text class="xl" transform="translate(538.34 608.75) scale(1.1 0.93)">２</text><text class="xl" x="538.34" y="624.9">年</text><text class="xl" transform="translate(538.34 640.85) scale(1.1 0.93)">１</text><text class="xl" x="538.34" y="657">月</text></g>
<g><text class="xl" transform="translate(551.96 592.7) scale(1.1 0.93)">２</text><text class="xl" transform="translate(551.96 608.75) scale(1.1 0.93)">２</text><text class="xl" x="551.96" y="624.9">年</text><text class="xl" transform="translate(551.96 640.85) scale(1.1 0.93)">２</text><text class="xl" x="551.96" y="657">月</text></g>
<g><text class="xl" transform="translate(565.58 592.7) scale(1.1 0.93)">２</text><text class="xl" transform="translate(565.58 608.75) scale(1.1 0.93)">２</text><text class="xl" x="565.58" y="624.9">年</text><text class="xl" transform="translate(565.58 640.85) scale(1.1 0.93)">３</text><text class="xl" x="565.58" y="657">月</text></g>
<g><text class="xl" transform="translate(579.2 592.7) scale(1.1 0.93)">２</text><text class="xl" transform="translate(579.2 608.75) scale(1.1 0.93)">２</text><text class="xl" x="579.2" y="624.9">年</text><text class="xl" transform="translate(579.2 640.85) scale(1.1 0.93)">４</text><text class="xl" x="579.2" y="657">月</text></g>
<g><text class="xl" transform="translate(592.81 592.7) scale(1.1 0.93)">２</text><text class="xl" transform="translate(592.81 608.75) scale(1.1 0.93)">２</text><text class="xl" x="592.81" y="624.9">年</text><text class="xl" transform="translate(592.81 640.85) scale(1.1 0.93)">５</text><text class="xl" x="592.81" y="657">月</text></g>
<g><text class="xl" transform="translate(606.43 592.7) scale(1.1 0.93)">２</text><text class="xl" transform="translate(606.43 608.75) scale(1.1 0.93)">２</text><text class="xl" x="606.43" y="624.9">年</text><text class="xl" transform="translate(606.43 640.85) scale(1.1 0.93)">６</text><text class="xl" x="606.43" y="657">月</text></g>
<g><text class="xl" transform="translate(620.05 592.7) scale(1.1 0.93)">２</text><text class="xl" transform="translate(620.05 608.75) scale(1.1 0.93)">２</text><text class="xl" x="620.05" y="624.9">年</text><text class="xl" transform="translate(620.05 640.85) scale(1.1 0.93)">７</text><text class="xl" x="620.05" y="657">月</text></g>
<g><text class="xl" transform="translate(633.67 592.7) scale(1.1 0.93)">２</text><text class="xl" transform="translate(633.67 608.75) scale(1.1 0.93)">２</text><text class="xl" x="633.67" y="624.9">年</text><text class="xl" transform="translate(633.67 640.85) scale(1.1 0.93)">８</text><text class="xl" x="633.67" y="657">月</text></g>
<g><text class="xl" transform="translate(647.29 592.7) scale(1.1 0.93)">２</text><text class="xl" transform="translate(647.29 608.75) scale(1.1 0.93)">２</text><text class="xl" x="647.29" y="624.9">年</text><text class="xl" transform="translate(647.29 640.85) scale(1.1 0.93)">９</text><text class="xl" x="647.29" y="657">月</text></g>
<g><text class="xl" transform="translate(660.9 592.7) scale(1.1 0.93)">２</text><text class="xl" transform="translate(660.9 608.75) scale(1.1 0.93)">２</text><text class="xl" x="660.9" y="624.9">年</text><text class="xl" transform="translate(660.9 640.85) scale(1.1 0.93)">１</text><text class="xl" transform="translate(660.9 656.9) scale(1.1 0.93)">０</text><text class="xl" x="660.9" y="673.05">月</text></g>
<g><text class="xl" transform="translate(674.52 592.7) scale(1.1 0.93)">２</text><text class="xl" transform="translate(674.52 608.75) scale(1.1 0.93)">２</text><text class="xl" x="674.52" y="624.9">年</text><text class="xl" transform="translate(674.52 640.85) scale(1.1 0.93)">１</text><text class="xl" transform="translate(674.52 656.9) scale(1.1 0.93)">１</text><text class="xl" x="674.52" y="673.05">月</text></g>
<g><text class="xl" transform="translate(688.14 592.7) scale(1.1 0.93)">２</text><text class="xl" transform="translate(688.14 608.75) scale(1.1 0.93)">２</text><text class="xl" x="688.14" y="624.9">年</text><text class="xl" transform="translate(688.14 640.85) scale(1.1 0.93)">１</text><text class="xl" transform="translate(688.14 656.9) scale(1.1 0.93)">２</text><text class="xl" x="688.14" y="673.05">月</text></g>
<g><text class="xl" transform="translate(701.76 592.7) scale(1.1 0.93)">２</text><text class="xl" transform="translate(701.76 608.75) scale(1.1 0.93)">３</text><text class="xl" x="701.76" y="624.9">年</text><text class="xl" transform="translate(701.76 640.85) scale(1.1 0.93)">１</text><text class="xl" x="701.76" y="657">月</text></g>
<g><text class="xl" transform="translate(715.37 592.7) scale(1.1 0.93)">２</text><text class="xl" transform="translate(715.37 608.75) scale(1.1 0.93)">３</text><text class="xl" x="715.37" y="624.9">年</text><text class="xl" transform="translate(715.37 640.85) scale(1.1 0.93)">２</text><text class="xl" x="715.37" y="657">月</text></g>
<g><text class="xl" transform="translate(728.99 592.7) scale(1.1 0.93)">２</text><text class="xl" transform="translate(728.99 608.75) scale(1.1 0.93)">３</text><text class="xl" x="728.99" y="624.9">年</text><text class="xl" transform="translate(728.99 640.85) scale(1.1 0.93)">３</text><text class="xl" x="728.99" y="657">月</text></g>
<g><text class="xl" transform="translate(742.61 592.7) scale(1.1 0.93)">２</text><text class="xl" transform="translate(742.61 608.75) scale(1.1 0.93)">３</text><text class="xl" x="742.61" y="624.9">年</text><text class="xl" transform="translate(742.61 640.85) scale(1.1 0.93)">４</text><text class="xl" x="742.61" y="657">月</text></g>
<g><text class="xl" transform="translate(756.23 592.7) scale(1.1 0.93)">２</text><text class="xl" transform="translate(756.23 608.75) scale(1.1 0.93)">３</text><text class="xl" x="756.23" y="624.9">年</text><text class="xl" transform="translate(756.23 640.85) scale(1.1 0.93)">５</text><text class="xl" x="756.23" y="657">月</text></g>
<g><text class="xl" transform="translate(769.84 592.7) scale(1.1 0.93)">２</text><text class="xl" transform="translate(769.84 608.75) scale(1.1 0.93)">３</text><text class="xl" x="769.84" y="624.9">年</text><text class="xl" transform="translate(769.84 640.85) scale(1.1 0.93)">６</text><text class="xl" x="769.84" y="657">月</text></g>
<g><text class="xl" transform="translate(783.46 592.7) scale(1.1 0.93)">２</text><text class="xl" transform="translate(783.46 608.75) scale(1.1 0.93)">３</text><text class="xl" x="783.46" y="624.9">年</text><text class="xl" transform="translate(783.46 640.85) scale(1.1 0.93)">７</text><text class="xl" x="783.46" y="657">月</text></g>
<g><text class="xl" transform="translate(797.08 592.7) scale(1.1 0.93)">２</text><text class="xl" transform="translate(797.08 608.75) scale(1.1 0.93)">３</text><text class="xl" x="797.08" y="624.9">年</text><text class="xl" transform="translate(797.08 640.85) scale(1.1 0.93)">８</text><text class="xl" x="797.08" y="657">月</text></g>
<g><text class="xl" transform="translate(810.7 592.7) scale(1.1 0.93)">２</text><text class="xl" transform="translate(810.7 608.75) scale(1.1 0.93)">３</text><text class="xl" x="810.7" y="624.9">年</text><text class="xl" transform="translate(810.7 640.85) scale(1.1 0.93)">９</text><text class="xl" x="810.7" y="657">月</text></g>
<g><text class="xl" transform="translate(824.31 592.7) scale(1.1 0.93)">２</text><text class="xl" transform="translate(824.31 608.75) scale(1.1 0.93)">３</text><text class="xl" x="824.31" y="624.9">年</text><text class="xl" transform="translate(824.31 640.85) scale(1.1 0.93)">１</text><text class="xl" transform="translate(824.31 656.9) scale(1.1 0.93)">０</text><text class="xl" x="824.31" y="673.05">月</text></g>
<g><text class="xl" transform="translate(837.93 592.7) scale(1.1 0.93)">２</text><text class="xl" transform="translate(837.93 608.75) scale(1.1 0.93)">３</text><text class="xl" x="837.93" y="624.9">年</text><text class="xl" transform="translate(837.93 640.85) scale(1.1 0.93)">１</text><text class="xl" transform="translate(837.93 656.9) scale(1.1 0.93)">１</text><text class="xl" x="837.93" y="673.05">月</text></g>
<g><text class="xl" transform="translate(851.55 592.7) scale(1.1 0.93)">２</text><text class="xl" transform="translate(851.55 608.75) scale(1.1 0.93)">３</text><text class="xl" x="851.55" y="624.9">年</text><text class="xl" transform="translate(851.55 640.85) scale(1.1 0.93)">１</text><text class="xl" transform="translate(851.55 656.9) scale(1.1 0.93)">２</text><text class="xl" x="851.55" y="673.05">月</text></g>
<g><text class="xl" transform="translate(865.17 592.7) scale(1.1 0.93)">２</text><text class="xl" transform="translate(865.17 608.75) scale(1.1 0.93)">４</text><text class="xl" x="865.17" y="624.9">年</text><text class="xl" transform="translate(865.17 640.85) scale(1.1 0.93)">１</text><text class="xl" x="865.17" y="657">月</text></g>
<g><text class="xl" transform="translate(878.79 592.7) scale(1.1 0.93)">２</text><text class="xl" transform="translate(878.79 608.75) scale(1.1 0.93)">４</text><text class="xl" x="878.79" y="624.9">年</text><text class="xl" transform="translate(878.79 640.85) scale(1.1 0.93)">２</text><text class="xl" x="878.79" y="657">月</text></g>
<g><text class="xl" transform="translate(892.4 592.7) scale(1.1 0.93)">２</text><text class="xl" transform="translate(892.4 608.75) scale(1.1 0.93)">４</text><text class="xl" x="892.4" y="624.9">年</text><text class="xl" transform="translate(892.4 640.85) scale(1.1 0.93)">３</text><text class="xl" x="892.4" y="657">月</text></g>
<g><text class="xl" transform="translate(906.02 592.7) scale(1.1 0.93)">２</text><text class="xl" transform="translate(906.02 608.75) scale(1.1 0.93)">４</text><text class="xl" x="906.02" y="624.9">年</text><text class="xl" transform="translate(906.02 640.85) scale(1.1 0.93)">４</text><text class="xl" x="906.02" y="657">月</text></g>
<g><text class="xl" transform="translate(919.64 592.7) scale(1.1 0.93)">２</text><text class="xl" transform="translate(919.64 608.75) scale(1.1 0.93)">４</text><text class="xl" x="919.64" y="624.9">年</text><text class="xl" transform="translate(919.64 640.85) scale(1.1 0.93)">５</text><text class="xl" x="919.64" y="657">月</text></g>
<g><text class="xl" transform="translate(933.26 592.7) scale(1.1 0.93)">２</text><text class="xl" transform="translate(933.26 608.75) scale(1.1 0.93)">４</text><text class="xl" x="933.26" y="624.9">年</text><text class="xl" transform="translate(933.26 640.85) scale(1.1 0.93)">６</text><text class="xl" x="933.26" y="657">月</text></g>
<g><text class="xl" transform="translate(946.87 592.7) scale(1.1 0.93)">２</text><text class="xl" transform="translate(946.87 608.75) scale(1.1 0.93)">４</text><text class="xl" x="946.87" y="624.9">年</text><text class="xl" transform="translate(946.87 640.85) scale(1.1 0.93)">７</text><text class="xl" x="946.87" y="657">月</text></g>
<g><text class="xl" transform="translate(960.49 592.7) scale(1.1 0.93)">２</text><text class="xl" transform="translate(960.49 608.75) scale(1.1 0.93)">４</text><text class="xl" x="960.49" y="624.9">年</text><text class="xl" transform="translate(960.49 640.85) scale(1.1 0.93)">８</text><text class="xl" x="960.49" y="657">月</text></g>
<g><text class="xl" transform="translate(974.11 592.7) scale(1.1 0.93)">２</text><text class="xl" transform="translate(974.11 608.75) scale(1.1 0.93)">４</text><text class="xl" x="974.11" y="624.9">年</text><text class="xl" transform="translate(974.11 640.85) scale(1.1 0.93)">９</text><text class="xl" x="974.11" y="657">月</text></g>
<g><text class="xl" transform="translate(987.73 592.7) scale(1.1 0.93)">２</text><text class="xl" transform="translate(987.73 608.75) scale(1.1 0.93)">４</text><text class="xl" x="987.73" y="624.9">年</text><text class="xl" transform="translate(987.73 640.85) scale(1.1 0.93)">１</text><text class="xl" transform="translate(987.73 656.9) scale(1.1 0.93)">０</text><text class="xl" x="987.73" y="673.05">月</text></g>
<g><text class="xl" transform="translate(1001.34 592.7) scale(1.1 0.93)">２</text><text class="xl" transform="translate(1001.34 608.75) scale(1.1 0.93)">４</text><text class="xl" x="1001.34" y="624.9">年</text><text class="xl" transform="translate(1001.34 640.85) scale(1.1 0.93)">１</text><text class="xl" transform="translate(1001.34 656.9) scale(1.1 0.93)">１</text><text class="xl" x="1001.34" y="673.05">月</text></g>
<g><text class="xl" transform="translate(1014.96 592.7) scale(1.1 0.93)">２</text><text class="xl" transform="translate(1014.96 608.75) scale(1.1 0.93)">４</text><text class="xl" x="1014.96" y="624.9">年</text><text class="xl" transform="translate(1014.96 640.85) scale(1.1 0.93)">１</text><text class="xl" transform="translate(1014.96 656.9) scale(1.1 0.93)">２</text><text class="xl" x="1014.96" y="673.05">月</text></g>
<g><text class="xl" transform="translate(1028.58 592.7) scale(1.1 0.93)">２</text><text class="xl" transform="translate(1028.58 608.75) scale(1.1 0.93)">５</text><text class="xl" x="1028.58" y="624.9">年</text><text class="xl" transform="translate(1028.58 640.85) scale(1.1 0.93)">１</text><text class="xl" x="1028.58" y="657">月</text></g>
<g><text class="xl" transform="translate(1042.2 592.7) scale(1.1 0.93)">２</text><text class="xl" transform="translate(1042.2 608.75) scale(1.1 0.93)">５</text><text class="xl" x="1042.2" y="624.9">年</text><text class="xl" transform="translate(1042.2 640.85) scale(1.1 0.93)">２</text><text class="xl" x="1042.2" y="657">月</text></g>
<g><text class="xl" transform="translate(1055.81 592.7) scale(1.1 0.93)">２</text><text class="xl" transform="translate(1055.81 608.75) scale(1.1 0.93)">５</text><text class="xl" x="1055.81" y="624.9">年</text><text class="xl" transform="translate(1055.81 640.85) scale(1.1 0.93)">３</text><text class="xl" x="1055.81" y="657">月</text></g>
<g><text class="xl" transform="translate(1069.43 592.7) scale(1.1 0.93)">２</text><text class="xl" transform="translate(1069.43 608.75) scale(1.1 0.93)">５</text><text class="xl" x="1069.43" y="624.9">年</text><text class="xl" transform="translate(1069.43 640.85) scale(1.1 0.93)">４</text><text class="xl" x="1069.43" y="657">月</text></g>
<g><text class="xl" transform="translate(1083.05 592.7) scale(1.1 0.93)">２</text><text class="xl" transform="translate(1083.05 608.75) scale(1.1 0.93)">５</text><text class="xl" x="1083.05" y="624.9">年</text><text class="xl" transform="translate(1083.05 640.85) scale(1.1 0.93)">５</text><text class="xl" x="1083.05" y="657">月</text></g>
<g><text class="xl" transform="translate(1096.67 592.7) scale(1.1 0.93)">２</text><text class="xl" transform="translate(1096.67 608.75) scale(1.1 0.93)">５</text><text class="xl" x="1096.67" y="624.9">年</text><text class="xl" transform="translate(1096.67 640.85) scale(1.1 0.93)">６</text><text class="xl" x="1096.67" y="657">月</text></g>
<g><text class="xl" transform="translate(1110.29 592.7) scale(1.1 0.93)">２</text><text class="xl" transform="translate(1110.29 608.75) scale(1.1 0.93)">５</text><text class="xl" x="1110.29" y="624.9">年</text><text class="xl" transform="translate(1110.29 640.85) scale(1.1 0.93)">７</text><text class="xl" x="1110.29" y="657">月</text></g>
<g><text class="xl" transform="translate(1123.9 592.7) scale(1.1 0.93)">２</text><text class="xl" transform="translate(1123.9 608.75) scale(1.1 0.93)">５</text><text class="xl" x="1123.9" y="624.9">年</text><text class="xl" transform="translate(1123.9 640.85) scale(1.1 0.93)">８</text><text class="xl" x="1123.9" y="657">月</text></g>
<g><text class="xl" transform="translate(1137.52 592.7) scale(1.1 0.93)">２</text><text class="xl" transform="translate(1137.52 608.75) scale(1.1 0.93)">５</text><text class="xl" x="1137.52" y="624.9">年</text><text class="xl" transform="translate(1137.52 640.85) scale(1.1 0.93)">９</text><text class="xl" x="1137.52" y="657">月</text></g>
<g><text class="xl" transform="translate(1151.14 592.7) scale(1.1 0.93)">２</text><text class="xl" transform="translate(1151.14 608.75) scale(1.1 0.93)">５</text><text class="xl" x="1151.14" y="624.9">年</text><text class="xl" transform="translate(1151.14 640.85) scale(1.1 0.93)">１</text><text class="xl" transform="translate(1151.14 656.9) scale(1.1 0.93)">０</text><text class="xl" x="1151.14" y="673.05">月</text></g>
<g><text class="xl" transform="translate(1164.76 592.7) scale(1.1 0.93)">２</text><text class="xl" transform="translate(1164.76 608.75) scale(1.1 0.93)">５</text><text class="xl" x="1164.76" y="624.9">年</text><text class="xl" transform="translate(1164.76 640.85) scale(1.1 0.93)">１</text><text class="xl" transform="translate(1164.76 656.9) scale(1.1 0.93)">１</text><text class="xl" x="1164.76" y="673.05">月</text></g>
<g><text class="xl" transform="translate(1178.37 592.7) scale(1.1 0.93)">２</text><text class="xl" transform="translate(1178.37 608.75) scale(1.1 0.93)">５</text><text class="xl" x="1178.37" y="624.9">年</text><text class="xl" transform="translate(1178.37 640.85) scale(1.1 0.93)">１</text><text class="xl" transform="translate(1178.37 656.9) scale(1.1 0.93)">２</text><text class="xl" x="1178.37" y="673.05">月</text></g>
<g><text class="xl" transform="translate(1191.99 592.7) scale(1.1 0.93)">２</text><text class="xl" transform="translate(1191.99 608.75) scale(1.1 0.93)">６</text><text class="xl" x="1191.99" y="624.9">年</text><text class="xl" transform="translate(1191.99 640.85) scale(1.1 0.93)">１</text><text class="xl" x="1191.99" y="657">月</text></g>
<rect x="539.4" y="0.3" width="197.4" height="29.8" fill="#fff" stroke="#808080" stroke-width="1"/>
<rect x="556.9" y="12.3" width="33.4" height="6.1" fill="#c4c4c4" stroke="#000" stroke-width="1.8"/>
<text class="lg" x="594.4" y="19.4">店舗数</text>
<line x1="650" y1="15.4" x2="683.4" y2="15.4" stroke="#851a66" stroke-width="3.4" stroke-linecap="round"/>
<path d="M666.6 11.2L670.8 15.4L666.6 19.6L662.4 15.4Z" fill="#000080"/>
<text class="lg" x="686.4" y="19.4">売上高</text>
</svg>
</body>
</html>
